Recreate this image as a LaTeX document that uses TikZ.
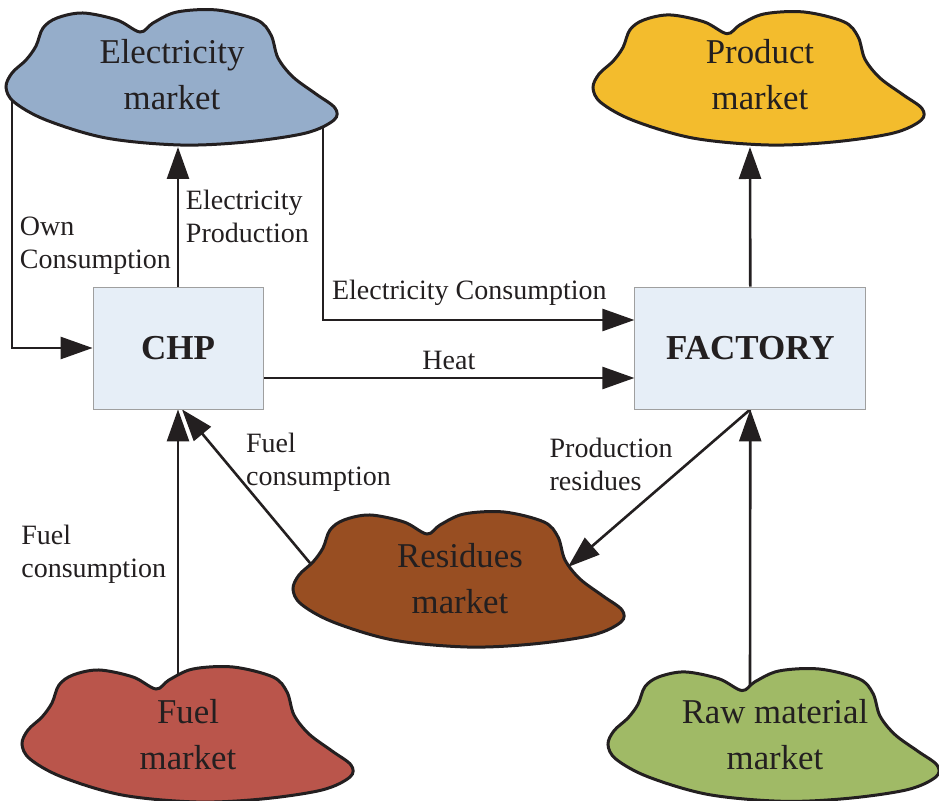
\documentclass[tikz,border=0pt]{standalone}
\usepackage{fontspec}
\setmainfont{Liberation Serif}
\usepackage{xcolor}
\usetikzlibrary{arrows.meta, positioning, calc}
\definecolor{ElecBlue}{HTML}{95ADCA}
\definecolor{ProdGold}{HTML}{F3BC2D}
\definecolor{ResBrown}{HTML}{984E22}
\definecolor{FuelRed}{HTML}{BA554B}
\definecolor{RawGreen}{HTML}{A0BA66}
\definecolor{BoxBlue}{HTML}{E6EEF7}
\definecolor{InkGray}{HTML}{231F20}
\pgfdeclarelayer{wires}
\pgfdeclarelayer{clouds}
\pgfsetlayers{wires,clouds,main}

\begin{document}
\begin{tikzpicture}[x=0.5pt, y=-0.5pt,
  market_cloud/.style={draw=InkGray, line width=1.5pt},
  market_text/.style={align=center, text=InkGray, font=\fontsize{17.4}{23}\selectfont},
  proc_box/.style={rectangle, draw=gray!75, fill=BoxBlue, text=InkGray,
    minimum height=61pt, font=\bfseries\fontsize{17.5}{21}\selectfont},
  flow/.style={-{Triangle[length=16pt, width=11pt]}, line width=1.3pt, InkGray},
  label_style/.style={font=\fontsize{14}{16.5}\selectfont, text=InkGray, align=left},
  pics/mktcloud/.style={code={
    \filldraw[market_cloud, fill=#1] plot[smooth cycle, tension=0.55] coordinates {
      (0,77) (6,63) (20,50) (30,36) (37,18) (51,8) (77,3) (111,10) (134,22)
      (147,13) (171,2) (211,0) (251,10) (265,25) (272,48) (287,67) (310,84)
      (329,98) (328,110) (300,123) (240,132) (174,135) (100,128) (40,110) (8,92)};
  }}
]
  \useasboundingbox (0,0) rectangle (939,801);

  % market clouds
  \begin{pgfonlayer}{clouds}
    \pic[shift={(6,10)}] {mktcloud=ElecBlue};
    \pic[shift={(593,12)}, yscale=0.985] {mktcloud=ProdGold};
    \pic[shift={(293,512)}] {mktcloud=ResBrown};
    \pic[shift={(22,667)}] {mktcloud=FuelRed};
    \pic[shift={(608,669)}, yscale=0.98] {mktcloud=RawGreen};
  \end{pgfonlayer}

  \node[market_text] (elec) at (172,75) {Electricity\\market};
  \node[market_text] (prod) at (760,75) {Product\\market};
  \node[market_text] (resid) at (460,579) {Residues\\market};
  \node[market_text] (fuel) at (188,735) {Fuel\\market};
  \node[market_text] (raw) at (775,735) {Raw material\\market};

  \node[proc_box, minimum width=85pt] (chp) at (178,348) {CHP};
  \node[proc_box, minimum width=115.5pt, right=185.5pt of chp] (factory) {FACTORY};

  % ends on the cloud outlines
  \coordinate (elec_own) at (12,80);
  \coordinate (elec_bot) at (178,147);
  \coordinate (elec_use) at (323,110);
  \coordinate (prod_bot) at (750,147);
  \coordinate (resid_src) at (320,575);
  \coordinate (resid_dst) at (568,567);
  \coordinate (fuel_top) at (178,700);
  \coordinate (raw_top) at (750,700);

  \begin{pgfonlayer}{wires}
    \draw[flow] (elec_own) |- node[right, pos=0.31, label_style]{Own\\Consumption} (chp.west);
    \draw[flow] (chp.north) -- node[right, label_style]{Electricity\\Production} (elec_bot);
    \draw[flow] (elec_use) |- node[above, pos=0.735, yshift=3pt, label_style]{Electricity Consumption}
      ($(factory.west)+(0,-28)$);
    \draw[flow] ($(chp.east)+(0,30)$) -- node[above, label_style]{Heat} ($(factory.west)+(0,30)$);
    \draw[flow] (factory.north) -- (prod_bot);
    \draw[flow] (fuel_top) -- node[left, xshift=-2pt, label_style]{Fuel\\consumption} (chp.south);
    \draw[flow] (resid_src) -- node[right, pos=0.68, xshift=6pt, label_style]{Fuel\\consumption}
      ([xshift=2pt]chp.south);
    \draw[flow] (factory.south) -- node[left, pos=0.35, xshift=-3pt, label_style]{Production\\residues} (resid_dst);
    \draw[flow] (raw_top) -- (factory.south);
  \end{pgfonlayer}

\end{tikzpicture}
\end{document}
